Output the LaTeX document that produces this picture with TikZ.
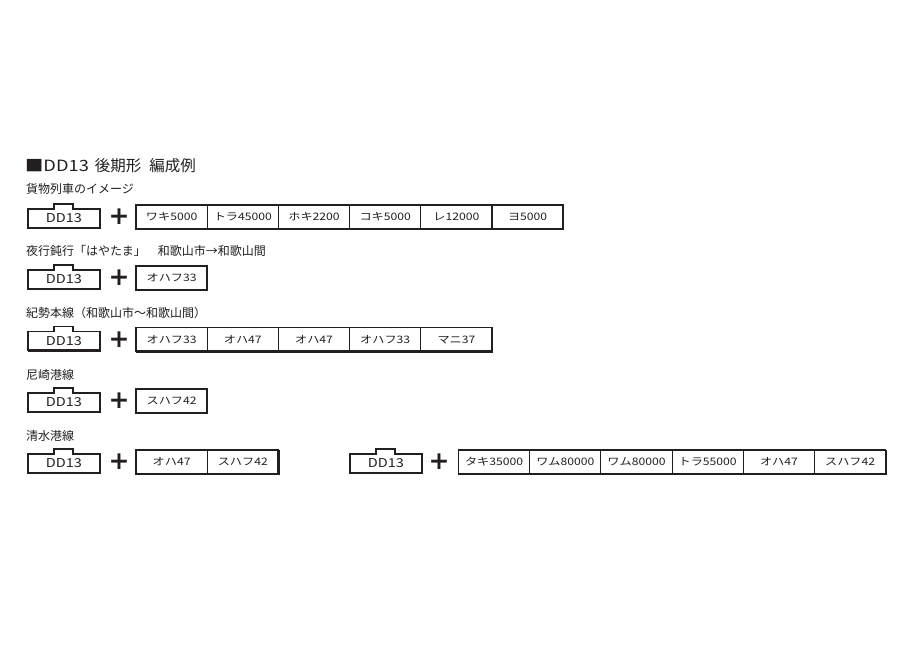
\documentclass[tikz,border=0pt]{standalone}
\usepackage{fontspec}
\setmainfont{Noto Sans CJK JP}
\newfontfamily\widefont{Noto Sans CJK JP}[FakeStretch=1.18]
\newfontfamily\plusfont{DejaVu Sans}
\usetikzlibrary{positioning}
\definecolor{InkBlack}{HTML}{231F20}
\tikzset{
  title/.style={anchor=west, inner sep=0pt, text=InkBlack, font=\fontsize{15.5}{17}\selectfont},
  rowlabel/.style={anchor=west, inner sep=0pt, text=InkBlack, font=\fontsize{12}{14}\selectfont},
  loco/.style={anchor=west, minimum width=72pt, minimum height=19pt, inner sep=0pt, outer sep=0pt, text=InkBlack, font=\widefont\fontsize{12.3}{14}\selectfont},
  car/.style={draw=InkBlack, line width=1.1pt, fill=white, minimum width=71.2pt, minimum height=24pt, inner sep=0pt, outer sep=0pt, text=InkBlack, font=\widefont\fontsize{10.3}{12}\selectfont},
  plus/.style={inner sep=0pt, text=InkBlack, font=\plusfont\bfseries\fontsize{25}{25}\selectfont},
  outline/.style={draw=InkBlack, line width=1.1pt},
  shade/.style={draw=InkBlack, line width=2.3pt}
}

\begin{document}
\begin{tikzpicture}[x=1pt, y=-1pt]
\useasboundingbox[fill=white] (0,0) rectangle (924,660);

\node[title] (ttl) at (25,166) {{\widefont ■DD13}\hspace{6pt}後期形\hspace{8pt}編成例};

% freight
\node[rowlabel] (lab1) at (26,189) {貨物列車のイメージ};
\node[loco] (l1) at (28,218.5) {DD13};
\node[plus] (p1) at (119,217) {+};
\node[car, anchor=west] (c11) at (136,217) {ワキ5000};
\node[car, right=0pt of c11] (c12) {トラ45000};
\node[car, right=0pt of c12] (c13) {ホキ2200};
\node[car, right=0pt of c13] (c14) {コキ5000};
\node[car, right=0pt of c14] (c15) {レ12000};
\node[car, right=0pt of c15] (c16) {ヨ5000};

% hayatama
\node[rowlabel] (lab2) at (26,251) {夜行鈍行「はやたま」　和歌山市→和歌山間};
\node[loco] (l2) at (28,279.5) {DD13};
\node[plus] (p2) at (119,278) {+};
\node[car, anchor=west] (c21) at (136,278) {オハフ33};

% kisei line
\node[rowlabel] (lab3) at (26,313) {紀勢本線（和歌山市～和歌山間）};
\node[loco] (l3) at (28,341) {DD13};
\node[plus] (p3) at (119,339.5) {+};
\node[car, anchor=west] (c31) at (136,339.5) {オハフ33};
\node[car, right=0pt of c31] (c32) {オハ47};
\node[car, right=0pt of c32] (c33) {オハ47};
\node[car, right=0pt of c33] (c34) {オハフ33};
\node[car, right=0pt of c34] (c35) {マニ37};

% amagasaki
\node[rowlabel] (lab4) at (26,375) {尼崎港線};
\node[loco] (l4) at (28,402.5) {DD13};
\node[plus] (p4) at (119,401) {+};
\node[car, anchor=west] (c41) at (136,401) {スハフ42};

% shimizu
\node[rowlabel] (lab5) at (26,436) {清水港線};
\node[loco] (l5) at (28,463.5) {DD13};
\node[plus] (p5) at (119,462) {+};
\node[car, anchor=west] (c51) at (136,462) {オハ47};
\node[car, right=0pt of c51] (c52) {スハフ42};

\node[loco] (l6) at (350,463.5) {DD13};
\node[plus] (p6) at (439,462) {+};
\node[car, anchor=west] (c61) at (458.5,462) {タキ35000};
\node[car, right=0pt of c61] (c62) {ワム80000};
\node[car, right=0pt of c62] (c63) {ワム80000};
\node[car, right=0pt of c63] (c64) {トラ55000};
\node[car, right=0pt of c64] (c65) {オハ47};
\node[car, right=0pt of c65] (c66) {スハフ42};

% loco bodies with raised hood
\draw[outline] (l1.south west) |- ([xshift=26pt]l1.north west) |- ([xshift=45pt, yshift=5pt]l1.north west) |- (l1.north east) -- (l1.south east) -- cycle;
\draw[outline] (l2.south west) |- ([xshift=26pt]l2.north west) |- ([xshift=45pt, yshift=5pt]l2.north west) |- (l2.north east) -- (l2.south east) -- cycle;
\draw[outline] (l3.south west) |- ([xshift=26pt]l3.north west) |- ([xshift=45pt, yshift=5pt]l3.north west) |- (l3.north east) -- (l3.south east) -- cycle;
\draw[outline] (l4.south west) |- ([xshift=26pt]l4.north west) |- ([xshift=45pt, yshift=5pt]l4.north west) |- (l4.north east) -- (l4.south east) -- cycle;
\draw[outline] (l5.south west) |- ([xshift=26pt]l5.north west) |- ([xshift=45pt, yshift=5pt]l5.north west) |- (l5.north east) -- (l5.south east) -- cycle;
\draw[outline] (l6.south west) |- ([xshift=26pt]l6.north west) |- ([xshift=45pt, yshift=5pt]l6.north west) |- (l6.north east) -- (l6.south east) -- cycle;

% heavier right and bottom edges
\draw[shade] (l1.north east) -- (l1.south east) -- (l1.south west);
\draw[shade] (l2.north east) -- (l2.south east) -- (l2.south west);
\draw[shade] (l3.north east) -- (l3.south east) -- (l3.south west);
\draw[shade] (l4.north east) -- (l4.south east) -- (l4.south west);
\draw[shade] (l5.north east) -- (l5.south east) -- (l5.south west);
\draw[shade] (l6.north east) -- (l6.south east) -- (l6.south west);
\draw[shade] (c16.north east) -- (c16.south east) -- (c11.south west);
\draw[shade] (c21.north east) -- (c21.south east) -- (c21.south west);
\draw[shade] (c35.north east) -- (c35.south east) -- (c31.south west);
\draw[shade] (c41.north east) -- (c41.south east) -- (c41.south west);
\draw[shade] (c52.north east) -- (c52.south east) -- (c51.south west);
\draw[shade] (c66.north east) -- (c66.south east) -- (c61.south west);
\end{tikzpicture}
\end{document}
